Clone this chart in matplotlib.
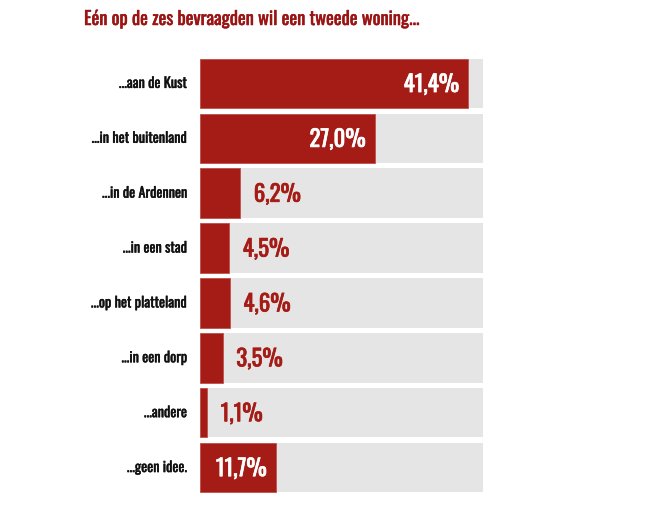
import matplotlib
matplotlib.use('Agg')
import matplotlib.pyplot as plt
import matplotlib.patheffects as pe

categories = ['...aan de Kust', '...in het buitenland', '...in de Ardennen', '...in een stad',
              '...op het platteland', '...in een dorp', '...andere', '...geen idee.']
values = [41.4, 27.0, 6.2, 4.5, 4.6, 3.5, 1.1, 11.7]
labels = ['41,4%', '27,0%', '6,2%', '4,5%', '4,6%', '3,5%', '1,1%', '11,7%']
scale_max = 43.7

red = '#a51c16'
grey = '#e5e5e5'
fam = ['Oswald', 'DejaVu Sans']


def thick(color, w=0.4):
    # Oswald only ships one weight here, so fatten the strokes a little
    return [pe.withStroke(linewidth=w, foreground=color)]


fig = plt.figure(figsize=(6.6, 5.07), dpi=100)
ax = fig.add_axes([200 / 660, 1 - 495 / 507, 283 / 660, 439 / 507])

ypos = list(range(len(categories)))
ax.barh(ypos, [scale_max] * len(values), height=0.9, color=grey)
ax.barh(ypos, values, height=0.9, color=red, edgecolor='#c0504a', linewidth=0.6)

for y, v, lab, cat in zip(ypos, values, labels, categories):
    if v > 10:
        ax.text(v - 1.4, y + 0.02, lab, ha='right', va='center', color='white',
                fontsize=16.5, family=fam, path_effects=thick('white', 0.5))
    else:
        ax.text(v + 2.1, y + 0.02, lab, ha='left', va='center', color=red,
                fontsize=16.5, family=fam, path_effects=thick(red, 0.5))
    ax.text(-2.0, y, cat, ha='right', va='center', color='#111111',
            fontsize=10.3, family=fam, path_effects=thick('#111111', 0.3))

ax.set_xlim(0, scale_max)
ax.set_ylim(len(categories) - 0.5, -0.5)
ax.axis('off')

fig.text(84 / 660, 1 - 19 / 507, 'Eén op de zes bevraagden wil een tweede woning...',
         ha='left', va='center', color='#9b1414', fontsize=13.3, family=fam,
         path_effects=thick('#9b1414', 0.35))

plt.savefig('out.png', dpi=100)
